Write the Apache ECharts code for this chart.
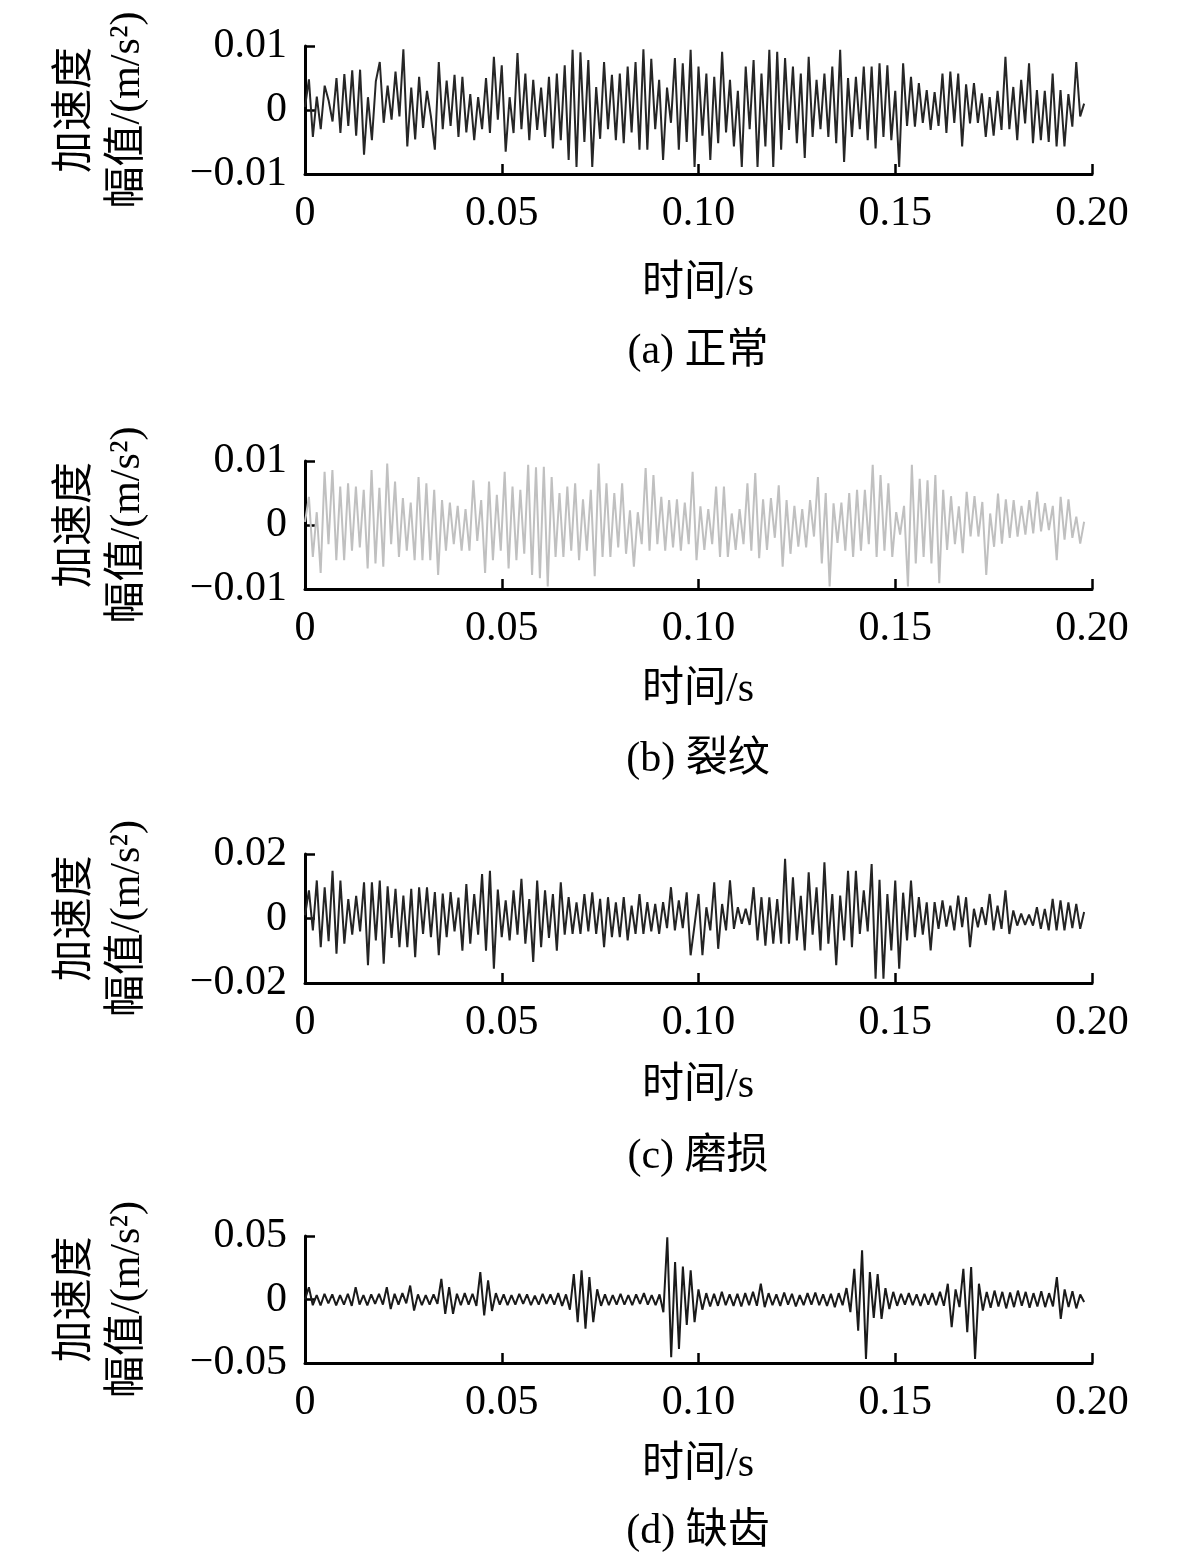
<!DOCTYPE html>
<html>
<head>
<meta charset="utf-8">
<script src="https://cdn.jsdelivr.net/npm/echarts@6/dist/echarts.min.js"></script>
<style>
    html, body { margin: 0; padding: 0; background: #fff; }
    #chart { width: 1181px; height: 1563px; }
</style>
</head>
<body>
<div id="chart"></div>
<script>
// 数据（单位 1e-3 m/s^2），按时间均匀采样，0 ~ 0.198 s
const timeEnd = 0.198;

// (a) 正常
const normalVals = [
    0.5, 4.8, -4.2, 2.1, -3.0, 3.8, 1.5, -1.8, 5.0, -3.6,
    5.6, -2.5, 6.2, -4.0, 6.3, -7.0, 2.0, -4.7, 4.5, 7.5,
    -2.0, 3.8, -1.5, 6.0, -1.0, 9.5, -5.7, 3.5, -4.6, 5.2,
    -2.8, 3.0, -1.0, -6.2, 7.5, -3.0, 4.6, -2.5, 5.5, -4.2,
    5.2, -3.5, 2.5, -4.7, 2.0, -3.0, 5.0, -3.6, 8.3, -1.5,
    7.0, -6.5, 2.0, -3.6, 8.9, -3.0, 5.7, -4.7, 4.7, -3.1,
    3.5, -4.2, 5.2, -6.0, 5.7, -4.7, 7.0, -7.8, 9.4, -8.9,
    9.0, -5.0, 7.8, -8.9, 3.6, -4.5, 7.5, -3.0, 5.5, -4.7,
    5.7, -5.2, 6.8, -3.5, 7.5, -6.2, 9.5, -6.2, 8.0, -3.0,
    4.7, -7.8, 3.5, -2.0, 8.1, -6.2, 7.3, -5.0, 9.4, -8.9,
    6.8, -4.0, 5.7, -7.8, 5.2, -5.2, 9.1, -3.5, 4.7, -5.7,
    3.0, -8.9, 6.8, -3.0, 7.8, -8.9, 5.7, -5.7, 9.4, -8.9,
    9.1, -6.2, 8.1, -3.1, 6.8, -5.2, 5.7, -7.5, 8.3, -4.2,
    4.7, -3.0, 5.7, -4.2, 6.8, -5.2, 9.4, -8.1, 5.0, -4.2,
    5.2, -3.0, 6.8, -4.7, 6.8, -6.0, 7.3, -4.2, 7.0, -4.7,
    3.0, -8.9, 7.3, -2.5, 5.2, -2.6, 4.2, -2.0, 3.1, -3.1,
    2.8, -2.5, 5.7, -3.6, 6.0, -2.0, 5.7, -5.7, 4.0, -2.1,
    4.2, -2.0, 2.6, -4.2, 2.0, -4.0, 3.0, -3.1, 8.3, -3.0,
    3.6, -4.7, 4.7, -2.1, 7.3, -5.2, 3.1, -4.7, 3.0, -5.0,
    5.7, -5.7, 3.1, -5.7, 2.5, -2.6, 7.5, -1.0, 1.0
];

// (b) 裂纹
const crackVals = [
    0.5, 4.4, -5.0, 2.0, -7.5, 8.3, -3.0, 8.6, -5.5, 6.0,
    -5.5, 6.5, -4.0, 6.0, -3.5, 5.5, -6.8, 8.6, -6.0, 5.8,
    -6.5, 9.6, -3.0, 6.8, -5.0, 4.2, -4.0, 3.5, -5.5, 7.5,
    -5.5, 6.5, -5.5, 5.5, -7.8, 3.9, -4.0, 3.5, -3.0, 3.0,
    -4.0, 2.5, -4.0, 7.0, -2.5, 3.9, -7.5, 6.8, -5.5, 4.7,
    -4.0, 8.3, -6.8, 6.0, -5.5, 5.5, -4.5, 9.4, -7.8, 9.0,
    -8.3, 9.1, -9.6, 7.5, -5.0, 5.0, -5.0, 6.0, -4.0, 6.5,
    -5.5, 4.0, -4.0, 5.5, -8.0, 9.6, -5.0, 6.5, -5.0, 5.0,
    -3.5, 6.5, -4.5, 2.3, -6.5, 2.0, -3.0, 8.9, -4.0, 7.8,
    -3.0, 4.4, -4.0, 3.9, -3.5, 4.0, -4.0, 3.5, -3.0, 8.3,
    -5.5, 2.9, -3.9, 2.5, -3.0, 6.0, -5.0, 6.0, -5.0, 1.8,
    -3.9, 2.5, -3.0, 6.5, -4.0, 8.1, -5.2, 4.0, -3.9, 4.2,
    -2.0, 6.2, -6.5, 3.9, -4.5, 3.0, -3.4, 2.5, -3.5, 3.9,
    -1.8, 7.5, -6.0, 5.0, -9.6, 3.4, -2.8, 3.5, -4.0, 5.0,
    -5.0, 5.5, -4.0, 5.5, -3.0, 9.4, -5.0, 7.8, -4.0, 6.5,
    -5.0, 2.0, -1.5, 3.0, -9.6, 9.4, -6.0, 7.2, -5.0, 7.0,
    -6.0, 7.8, -9.1, 5.5, -3.9, 4.5, -3.0, 2.9, -4.4, 5.2,
    -1.8, 4.5, -1.8, 3.6, -7.8, 1.8, -3.4, 4.9, -2.9, 4.0,
    -2.0, 3.9, -1.8, 3.0, -1.5, 3.9, -1.3, 5.2, -1.0, 3.4,
    -0.8, 3.0, -5.5, 4.4, -2.3, 4.0, -2.0, 1.3, -2.9, 0.5
];

// (c) 磨损
const wearVals = [
    1.0, 8.7, -3.7, 11.8, -8.9, 9.7, -7.0, 14.8, -10.9, 11.8,
    -7.8, 6.0, -5.0, 7.0, -4.0, 11.2, -14.5, 11.2, -6.8, 11.8,
    -14.0, 10.0, -6.0, 9.2, -8.9, 7.1, -8.9, 9.2, -12.0, 9.7,
    -4.8, 9.7, -5.8, 8.2, -11.4, 7.7, -5.8, 8.2, -4.0, 6.5,
    -10.0, 10.7, -7.8, 7.6, -5.0, 13.8, -10.0, 14.8, -15.6, 9.0,
    -5.8, 5.6, -6.8, 8.7, -5.0, 12.3, -7.8, 6.0, -13.5, 11.8,
    -8.9, 8.7, -6.0, 7.6, -10.0, 11.2, -5.0, 6.6, -4.8, 5.0,
    -4.8, 7.6, -4.0, 8.1, -4.8, 6.1, -8.9, 6.6, -5.8, 5.0,
    -5.8, 6.6, -6.8, 4.0, -4.8, 7.6, -4.8, 5.1, -4.0, 4.5,
    -4.8, 5.1, -3.0, 9.7, -3.7, 5.6, -3.0, 8.1, -11.4, -2.0,
    7.6, -11.4, 3.5, -3.7, 11.2, -9.4, 4.5, -3.7, 11.8, -3.2,
    3.5, -1.6, 3.0, -2.0, 9.7, -6.8, 6.6, -8.4, 6.6, -7.8,
    6.0, -7.8, 18.5, -7.8, 12.8, -6.8, 7.0, -9.9, 14.3, -5.0,
    9.7, -9.9, 17.4, -7.8, 7.6, -14.5, 7.1, -6.8, 14.8, -8.9,
    14.8, -4.8, 8.7, -4.0, 16.9, -18.7, 12.0, -18.7, 7.6, -9.9,
    11.8, -15.6, 8.0, -6.8, 11.8, -5.8, 6.6, -5.0, 5.0, -9.9,
    5.1, -3.2, 5.6, -2.5, 4.0, -3.7, 7.1, -2.7, 6.6, -8.9,
    3.0, -2.7, 3.5, -2.0, 7.6, -3.7, 4.0, -3.2, 8.7, -4.8,
    2.5, -2.2, 1.5, -2.0, 1.2, -2.2, 3.5, -3.2, 3.0, -3.7,
    6.1, -3.7, 5.6, -3.7, 5.0, -3.0, 4.5, -3.2, 2.0
];

// (d) 缺齿
const missingVals = [
    0.0, 9.7, -4.5, 3.5, -4.7, 4.5, -3.0, 4.0, -4.7, 3.5,
    -4.0, 4.5, -5.0, 9.7, -4.0, 3.5, -4.7, 4.0, -3.5, 4.5,
    -4.0, 9.7, -7.5, 4.5, -4.0, 5.0, -3.0, 11.0, -8.7, 4.0,
    -4.5, 3.5, -4.0, 4.0, -3.5, 16.3, -11.3, 9.7, -11.3, 4.5,
    -4.5, 5.0, -4.0, 4.5, -5.0, 21.6, -12.6, 15.0, -9.0, 5.0,
    -4.0, 4.0, -4.5, 3.5, -4.0, 4.5, -3.5, 4.0, -4.5, 3.0,
    -4.0, 4.5, -3.5, 4.0, -4.0, 5.0, -5.0, 4.0, -8.0, 20.0,
    -17.9, 22.9, -23.0, 17.6, -17.9, 8.0, -5.0, 4.0, -4.5, 3.5,
    -4.0, 4.5, -4.0, 3.5, -4.5, 4.0, -3.5, 5.0, -4.0, 3.5,
    -4.5, 4.0, -10.0, 49.0, -45.5, 29.5, -39.0, 26.0, -20.0, 22.9,
    -17.9, 8.0, -8.0, 5.0, -5.5, 4.5, -5.0, 6.0, -4.5, 4.0,
    -5.0, 4.5, -5.5, 5.0, -4.5, 6.0, -5.0, 12.4, -6.0, 5.0,
    -4.5, 4.0, -5.0, 5.5, -4.0, 4.5, -5.5, 3.5, -4.5, 5.0,
    -4.0, 5.5, -4.5, 4.0, -5.0, 4.5, -6.0, 5.0, -4.5, 9.0,
    -10.0, 24.2, -24.5, 38.7, -46.8, 21.6, -14.5, 20.0, -15.3, 9.0,
    -7.5, 6.0, -5.0, 4.5, -4.0, 5.0, -4.5, 4.0, -5.0, 4.5,
    -4.0, 5.0, -4.5, 6.0, -5.0, 12.4, -21.8, 8.0, -6.0, 24.2,
    -25.8, 25.5, -46.8, 12.4, -8.7, 6.0, -6.5, 7.0, -5.5, 6.0,
    -7.0, 5.5, -6.0, 7.0, -5.0, 6.0, -6.5, 5.0, -5.5, 6.5,
    -6.0, 5.0, -5.5, 17.6, -15.3, 8.0, -6.0, 6.5, -7.0, 4.0, -2.0
];

const captions = ['(a) 正常', '(b) 裂纹', '(c) 磨损', '(d) 缺齿'];
const yLimits = [0.01, 0.01, 0.02, 0.05];
const xLimits = [0, 0.20];
const xStep = 0.05;
const yTitle = ['加速度', '幅值/(m/s²)'];
const xTitle = '时间/s';

(function () {
    let myChart = echarts.init(document.getElementById('chart'));
    const fam = '"Liberation Serif", "Noto Sans CJK SC", serif';
    const fs = 42;
    const allVals = [normalVals, crackVals, wearVals, missingVals];
    const lineColors = ['#262626', '#c0c0c0', '#242424', '#1a1a1a'];

    // 版面（像素）
    const gridTop = [46, 461, 854, 1236];
    const gridH = [128, 128, 129, 127];
    const titleY = [284, 690, 1086, 1465];
    const capY = [352, 760, 1157, 1532];
    const gLeft = 305, gWidth = 787;

    const fmt = function (v) {
        if (Math.abs(v) < 1e-9) return '0';
        return (v < 0 ? '\u2212' : '') + Math.abs(v).toFixed(2);
    };

    let grids = [], xAxes = [], yAxes = [], series = [], graphics = [];
    allVals.forEach(function (vals, i) {
        grids.push({ left: gLeft, width: gWidth, top: gridTop[i], height: gridH[i] });
        xAxes.push({
            type: 'value', gridIndex: i,
            min: xLimits[0], max: xLimits[1], interval: xStep,
            axisLine: { show: true, onZero: false, lineStyle: { color: '#000', width: 3 } },
            axisTick: { show: true, inside: true, length: 10, lineStyle: { color: '#000', width: 2.5 } },
            axisLabel: { color: '#000', fontSize: fs, fontFamily: fam, margin: 19, formatter: fmt },
            splitLine: { show: false }
        });
        yAxes.push({
            type: 'value', gridIndex: i,
            min: -yLimits[i], max: yLimits[i], interval: yLimits[i],
            axisLine: { show: true, onZero: false, lineStyle: { color: '#000', width: 3 } },
            axisTick: { show: true, inside: true, length: 10, lineStyle: { color: '#000', width: 2.5 } },
            axisLabel: { color: '#000', fontSize: fs, fontFamily: fam, margin: 18, formatter: fmt },
            splitLine: { show: false }
        });
        const n = vals.length;
        series.push({
            type: 'line', xAxisIndex: i, yAxisIndex: i,
            showSymbol: false, symbol: 'none', sampling: 'none',
            lineStyle: { color: lineColors[i], width: 2 },
            data: vals.map(function (v, k) { return [k * timeEnd / (n - 1), v / 1000]; })
        });

        const cy = gridTop[i] + gridH[i] / 2;
        graphics.push(
            { type: 'text', x: 76, y: cy, rotation: Math.PI / 2,
              style: { text: yTitle[0], fontSize: fs, fontFamily: fam, fill: '#000', align: 'center', verticalAlign: 'middle' } },
            { type: 'text', x: 128, y: cy, rotation: Math.PI / 2,
              style: { text: yTitle[1], fontSize: fs, fontFamily: fam, fill: '#000', align: 'center', verticalAlign: 'middle' } },
            { type: 'text', x: 698, y: titleY[i],
              style: { text: xTitle, fontSize: fs, fontFamily: fam, fill: '#000', align: 'center', verticalAlign: 'middle' } },
            { type: 'text', x: 698, y: capY[i],
              style: { text: captions[i], fontSize: fs, fontFamily: fam, fill: '#000', align: 'center', verticalAlign: 'middle' } }
        );
    });

    let option = {
        animation: false,
        backgroundColor: '#fff',
        grid: grids,
        xAxis: xAxes,
        yAxis: yAxes,
        series: series,
        graphic: graphics
    };
    myChart.setOption(option);

    window.addEventListener('resize', function () {
        myChart.resize();
    });
})();
</script>
</body>
</html>
